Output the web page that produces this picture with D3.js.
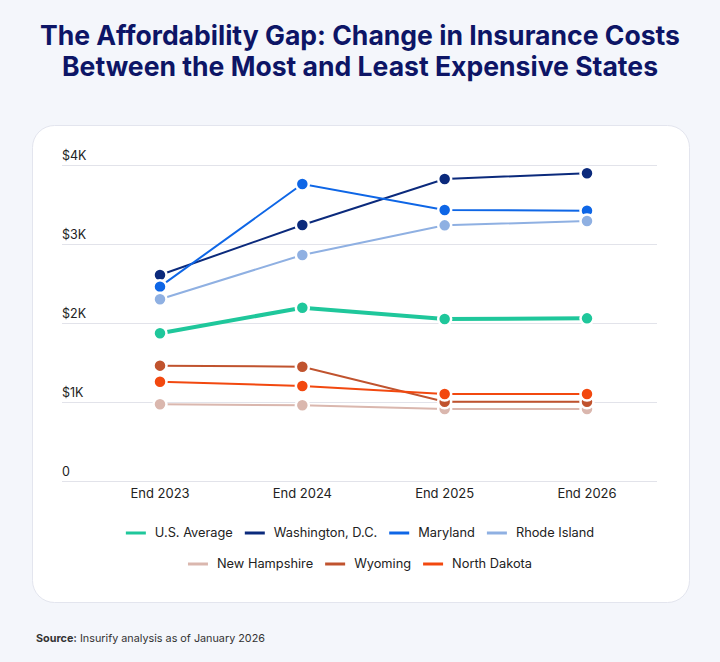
<!DOCTYPE html>
<meta charset="utf-8">
<style>
    body { margin: 0; background: #f4f6fb; }
    svg { display: block; font-family: "Inter", "Noto Sans", sans-serif; }
    .grid line { stroke: #e2e3ea; stroke-width: 1; }
    .ylab { font-size: 12.5px; fill: #222; }
    .xlab { font-size: 13px; fill: #222; text-anchor: middle; }
    .legend text { font-size: 12.8px; fill: #222; }
</style>
<svg class="chart"></svg>
<script src="https://cdn.jsdelivr.net/npm/d3@7/dist/d3.min.js" charset="utf-8"></script>
<script>

    var years = ["End 2023", "End 2024", "End 2025", "End 2026"];
    var yTicks = [0, 1000, 2000, 3000, 4000];
    var yTickLabels = ["0", "$1K", "$2K", "$3K", "$4K"];

    var seriesNames = ["U.S. Average", "Washington, D.C.", "Maryland", "Rhode Island",
                       "New Hampshire", "Wyoming", "North Dakota"];
    var seriesColors = ["#1fc79b", "#0b2a7c", "#0e66e6", "#8fb0e2",
                        "#dab7ae", "#c0532e", "#f2480f"];

    var usAverage = [1870, 2194, 2051, 2059];
    var washingtonDC = [2608, 3241, 3823, 3895];
    var maryland = [2460, 3759, 3430, 3422];
    var rhodeIsland = [2300, 2861, 3236, 3291];
    var newHampshire = [971, 958, 911, 911];
    var wyoming = [1460, 1447, 1004, 1004];
    var northDakota = [1257, 1203, 1101, 1101];

    var seriesValues = [usAverage, washingtonDC, maryland, rhodeIsland,
                        newHampshire, wyoming, northDakota];

    var width = 720,
        height = 662;

    var svg = d3.select(".chart")
        .attr("width", width)
        .attr("height", height);

    // title
    var title = svg.append("g")
        .attr("fill", "#0d1566")
        .attr("font-weight", 700)
        .attr("font-size", 27)
        .attr("text-anchor", "middle");
    title.append("text").attr("x", 360).attr("y", 45)
        .attr("textLength", 640).attr("lengthAdjust", "spacingAndGlyphs")
        .text("The Affordability Gap: Change in Insurance Costs");
    title.append("text").attr("x", 360).attr("y", 76)
        .attr("textLength", 596).attr("lengthAdjust", "spacingAndGlyphs")
        .text("Between the Most and Least Expensive States");

    // card
    svg.append("rect")
        .attr("x", 32.5).attr("y", 125.5)
        .attr("width", 657).attr("height", 477)
        .attr("rx", 22)
        .attr("fill", "#fff")
        .attr("stroke", "#e3e5ee");

    var x = d3.scalePoint()
        .domain(years)
        .range([160, 587]);

    var y = d3.scaleLinear()
        .domain([0, 4000])
        .range([481, 165]);

    // grid
    var grid = svg.append("g").attr("class", "grid");
    grid.selectAll("line")
        .data(yTicks)
        .enter().append("line")
        .attr("x1", 62).attr("x2", 657)
        .attr("y1", function(d) { return Math.round(y(d)) + 0.5; })
        .attr("y2", function(d) { return Math.round(y(d)) + 0.5; });

    svg.append("g").selectAll("text")
        .data(yTicks)
        .enter().append("text")
        .attr("class", "ylab")
        .attr("x", 62)
        .attr("y", function(d) { return y(d) - 5; })
        .text(function(d, i) { return yTickLabels[i]; });

    svg.append("g").selectAll("text")
        .data(years)
        .enter().append("text")
        .attr("class", "xlab")
        .attr("x", function(d) { return x(d); })
        .attr("y", 498)
        .text(function(d) { return d; });

    // series
    var line = d3.line()
        .x(function(d, i) { return x(years[i]); })
        .y(function(d) { return y(d); });

    seriesValues.forEach(function(vals, s) {
        var g = svg.append("g");
        g.append("path")
            .attr("d", line(vals))
            .attr("fill", "none")
            .attr("stroke", seriesColors[s])
            .attr("stroke-width", s === 0 ? 4 : 2);
        g.selectAll("circle")
            .data(vals)
            .enter().append("circle")
            .attr("cx", function(d, i) { return x(years[i]); })
            .attr("cy", function(d) { return y(d); })
            .attr("r", 6.5)
            .attr("fill", seriesColors[s])
            .attr("stroke", "#fff")
            .attr("stroke-width", 2.5);
    });

    // legend
    var rows = [[0, 1, 2, 3], [4, 5, 6]];
    var rowY = [533, 564];
    rows.forEach(function(row, r) {
        var lg = svg.append("g").attr("class", "legend");
        var cx = 0;
        row.forEach(function(s) {
            lg.append("line")
                .attr("x1", cx).attr("x2", cx + 20)
                .attr("y1", 0).attr("y2", 0)
                .attr("stroke", seriesColors[s])
                .attr("stroke-width", 3);
            var t = lg.append("text")
                .attr("x", cx + 29)
                .attr("dy", "0.35em")
                .text(seriesNames[s]);
            cx += 29 + t.node().getComputedTextLength() + 12;
        });
        cx -= 12;
        lg.attr("transform", "translate(" + (360 - cx / 2) + "," + rowY[r] + ")");
    });

    // source
    var src = svg.append("text")
        .attr("x", 36).attr("y", 642)
        .attr("font-size", 10.8)
        .attr("fill", "#333");
    src.append("tspan").attr("font-weight", 700).text("Source:");
    src.append("tspan").text(" Insurify analysis as of January 2026");

</script>
